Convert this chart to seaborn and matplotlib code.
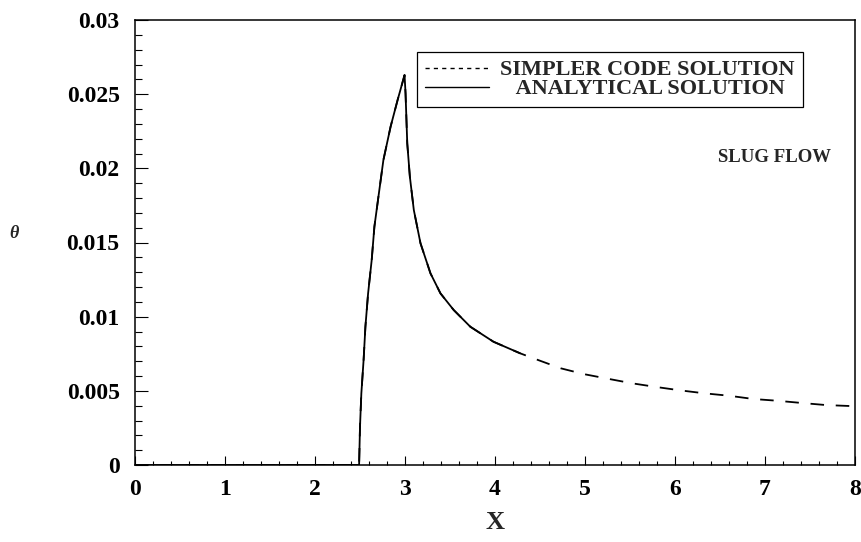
import matplotlib
matplotlib.use("Agg")
import matplotlib.pyplot as plt
from matplotlib.lines import Line2D
from matplotlib.ticker import MultipleLocator
import pandas as pd
import seaborn as sns

# Axial position and dimensionless temperature, SIMPLER code (full domain)
x_simpler = [0.0, 1.0, 2.0, 2.49, 2.50, 2.515, 2.54, 2.56, 2.59, 2.63, 2.66,
             2.71, 2.76, 2.84, 2.918, 2.995, 3.006, 3.025, 3.054, 3.098, 3.172,
             3.283, 3.394, 3.541, 3.726, 3.983, 4.279, 4.41, 4.73, 4.985,
             5.25, 5.52, 5.79, 6.06, 6.33, 6.60, 6.87, 7.14, 7.41, 7.68,
             7.93, 8.0]
theta_simpler = [0.0, 0.0, 0.0, 0.0, 0.00258, 0.00483, 0.00708, 0.00932,
                 0.01157, 0.01382, 0.01607, 0.01832, 0.02056, 0.02281,
                 0.02461, 0.02629, 0.02506, 0.02169, 0.01944, 0.01719,
                 0.01495, 0.01292, 0.01157, 0.01045, 0.00932, 0.00831,
                 0.00753, 0.00723, 0.00652, 0.00613, 0.00582, 0.00551,
                 0.00526, 0.00503, 0.00483, 0.00467, 0.00445, 0.00433,
                 0.00418, 0.00404, 0.00398, 0.00395]

# Analytical solution (evaluated up to X = 4.28)
x_analytical = [0.0, 1.0, 2.0, 2.49, 2.50, 2.515, 2.54, 2.56, 2.59, 2.63,
                2.66, 2.71, 2.76, 2.84, 2.918, 2.995, 3.006, 3.025, 3.054,
                3.098, 3.172, 3.283, 3.394, 3.541, 3.726, 3.983, 4.279]
theta_analytical = [0.0, 0.0, 0.0, 0.0, 0.00258, 0.00483, 0.00708, 0.00932,
                    0.01157, 0.01382, 0.01607, 0.01832, 0.02056, 0.02281,
                    0.02461, 0.02629, 0.02506, 0.02169, 0.01944, 0.01719,
                    0.01495, 0.01292, 0.01157, 0.01045, 0.00932, 0.00831,
                    0.00753]

legend_labels = ["SIMPLER CODE SOLUTION", "   ANALYTICAL SOLUTION"]
annotation = "SLUG FLOW"

sns.set_theme(style="ticks")
serif = ["Liberation Serif", "DejaVu Serif"]
plt.rcParams["font.family"] = serif

fig = plt.figure(figsize=(8.61, 5.42), dpi=100)
ax = fig.add_axes([135 / 861, 77 / 542, 720 / 861, 445 / 542])

df_sim = pd.DataFrame({"X": x_simpler, "theta": theta_simpler})
df_ana = pd.DataFrame({"X": x_analytical, "theta": theta_analytical})

sns.lineplot(data=df_ana, x="X", y="theta", ax=ax, color="black", lw=1.3,
             estimator=None, sort=False)
sns.lineplot(data=df_sim, x="X", y="theta", ax=ax, color="black", lw=1.3,
             estimator=None, sort=False, linestyle=(0, (7.5, 6.5)))

ax.set_xlim(0, 8)
ax.set_ylim(0, 0.03)
ax.xaxis.set_major_locator(MultipleLocator(1))
ax.xaxis.set_minor_locator(MultipleLocator(0.2))
ax.yaxis.set_minor_locator(MultipleLocator(0.001))
ax.set_yticks([0, 0.005, 0.01, 0.015, 0.02, 0.025, 0.03])
ax.set_yticklabels(["0", "0.005", "0.01", "0.015", "0.02", "0.025", "0.03"])

ax.tick_params(axis="both", which="both", direction="in", colors="black",
               width=0.8, labelsize=17)
ax.tick_params(axis="x", which="major", length=6.3, pad=10)
ax.tick_params(axis="x", which="minor", length=3.1)
ax.tick_params(axis="y", which="major", length=9.4, pad=11)
ax.tick_params(axis="y", which="minor", length=4.7)
for lab in ax.get_xticklabels() + ax.get_yticklabels():
    lab.set_fontfamily(serif)
    lab.set_fontweight("bold")

for s in ax.spines.values():
    s.set_visible(True)
    s.set_linewidth(1.1)
    s.set_color("black")

ax.set_xlabel("X", fontsize=19, family=serif, fontweight="bold", labelpad=8)
ax.set_ylabel("θ", fontsize=13, family=serif, style="italic",
              fontweight="bold", rotation=0, va="center", ha="center")
ax.yaxis.set_label_coords(-0.168, 0.52)

ax.text(7.11, 0.0207, annotation, fontsize=13.5, family=serif,
        fontweight="bold", ha="center", va="center")

handles = [Line2D([], [], color="black", lw=1.0, linestyle=(0, (3, 3))),
           Line2D([], [], color="black", lw=1.0)]
leg = fig.legend(handles, legend_labels, loc="upper left",
                 bbox_to_anchor=(417 / 861, 1 - 52 / 542),
                 frameon=True, fancybox=False, shadow=False,
                 prop={"family": serif, "size": 16, "weight": "bold"},
                 handlelength=2.9, handletextpad=0.5, labelspacing=-0.07,
                 borderpad=0.35, borderaxespad=0)
leg.get_frame().set_edgecolor("black")
leg.get_frame().set_linewidth(0.9)
leg.get_frame().set_alpha(1)

fig.savefig("out.png", dpi=100)
